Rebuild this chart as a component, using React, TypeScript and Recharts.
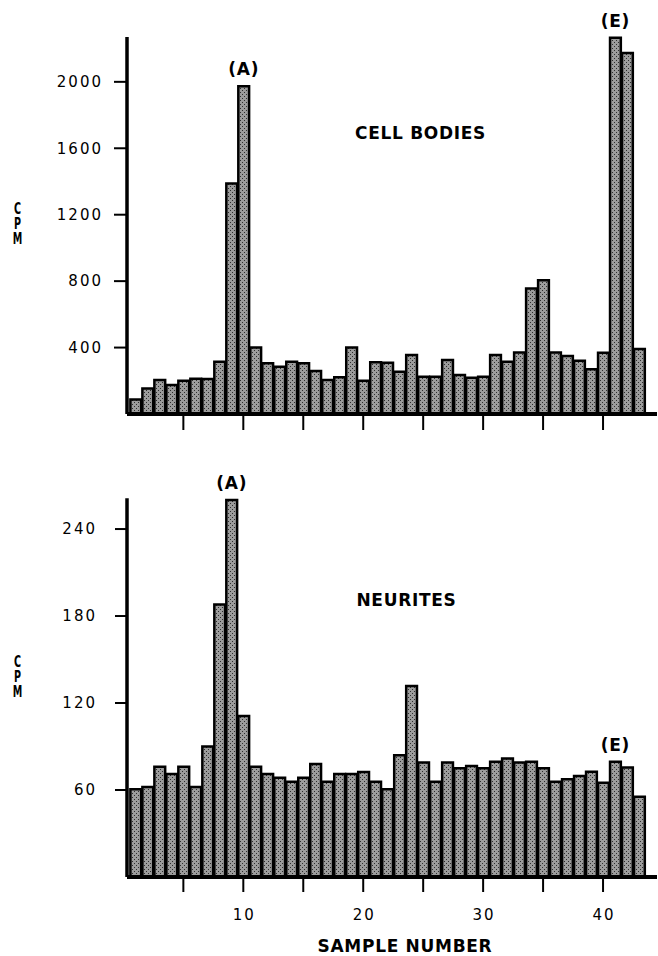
import React from 'react';
import { BarChart, Bar, XAxis, YAxis, LabelList } from 'recharts';

// Sample numbers (categories)
const samples = [
  1, 2, 3, 4, 5, 6, 7, 8, 9, 10,
  11, 12, 13, 14, 15, 16, 17, 18, 19, 20,
  21, 22, 23, 24, 25, 26, 27, 28, 29, 30,
  31, 32, 33, 34, 35, 36, 37, 38, 39, 40,
  41, 42, 43,
];

// CPM values, cell bodies (top panel)
const cellBodies = [
  88, 154, 204, 174, 200, 212, 210, 315, 1388, 1973,
  401, 305, 285, 315, 305, 259, 204, 221, 401, 200,
  311, 309, 255, 355, 225, 225, 325, 235, 218, 225,
  355, 315, 371, 756, 806, 371, 349, 321, 269, 369,
  2266, 2173, 391,
];

// CPM values, neurites (bottom panel)
const neurites = [
  60.5, 62, 76, 71, 76, 62, 90, 188, 260, 111,
  76, 71, 68.5, 65.7, 68.5, 78, 65.7, 71, 71, 72.4,
  65.7, 60.5, 84, 131.7, 79, 65.7, 79, 75, 76.6, 75,
  79.5, 81.8, 79, 79.5, 75, 65.7, 67.4, 69.7, 72.6, 65,
  79.5, 75.6, 55.4,
];

// Peak annotations
const topNoteSamples = [10, 41];
const topNoteTexts = ['(A)', '(E)'];
const bottomNoteSamples = [9, 41];
const bottomNoteTexts = ['(A)', '(E)'];

// Axis ticks
const xTicks = [5, 10, 15, 20, 25, 30, 35, 40];
const topYTicks = [400, 800, 1200, 1600, 2000];
const bottomYTicks = [60, 120, 180, 240];

const NUM_FONT = '"DejaVu Sans", sans-serif';
const BOLD_FONT = '"DejaVu Sans", sans-serif';

function buildRows(values: number[], noteSamples: number[], noteTexts: string[]) {
  return samples.map((n, i) => {
    const k = noteSamples.indexOf(n);
    return { n, v: values[i], note: k >= 0 ? noteTexts[k] : '' };
  });
}

const topRows = buildRows(cellBodies, topNoteSamples, topNoteTexts);
const bottomRows = buildRows(neurites, bottomNoteSamples, bottomNoteTexts);

const NoteLabel = (props: any) => {
  const { x, y, width, value } = props;
  if (!value) return null;
  return (
    <text
      x={Number(x) + Number(width) / 2}
      y={Number(y) - 11}
      textAnchor="middle"
      fontFamily={BOLD_FONT}
      fontWeight="bold"
      fontSize={17}
      style={{ letterSpacing: '0.7px' }}
      fill="#000"
    >
      {value}
    </text>
  );
};

const XTickLabel = (props: any) => {
  const { x, y, payload } = props;
  if (payload.value % 10 !== 0) return <g />;
  return (
    <text
      x={x + 1}
      y={y}
      dy={11}
      textAnchor="middle"
      fontFamily={NUM_FONT}
      fontSize={15}
      style={{ letterSpacing: '2px' }}
      fill="#000"
    >
      {payload.value}
    </text>
  );
};

const NoXTick = () => <g />;

function Defs() {
  return (
    <defs>
      <pattern id="dots" width="4" height="4" patternUnits="userSpaceOnUse">
        <rect x="0" y="0" width="4" height="4" fill="#9c9c9c" />
        <rect x="0" y="0" width="1" height="1" fill="#2e2e2e" />
        <rect x="2" y="2" width="1" height="1" fill="#2e2e2e" />
      </pattern>
    </defs>
  );
}

function CpmLabel({ x, y }: { x: number; y: number }) {
  return (
    <text
      transform={`translate(${x} ${y}) scale(0.6 1)`}
      x={0}
      y={0}
      fontFamily={BOLD_FONT}
      fontWeight="bold"
      fontSize={16}
      fill="#000"
      style={{ writingMode: 'vertical-rl', textOrientation: 'upright', letterSpacing: '-3px' } as any}
    >
      CPM
    </text>
  );
}

export default function App() {
  const W = 658;
  return (
    <div style={{ position: 'absolute', left: 0, top: 0, width: W, height: 956, background: '#fff' }}>
      <div style={{ position: 'absolute', left: 0, top: 0 }}>
        <BarChart
          width={W}
          height={445}
          data={topRows}
          margin={{ top: 37, right: 1, bottom: 0, left: 0 }}
          barCategoryGap={0}
        >
          <Defs />
          <XAxis
            dataKey="n"
            type="number"
            domain={[0.3, 44.5]}
            ticks={xTicks}
            interval={0}
            height={31}
            axisLine={{ stroke: '#000', strokeWidth: 4 }}
            tickLine={{ stroke: '#000', strokeWidth: 2 }}
            tickSize={16}
            tick={NoXTick}
          />
          <YAxis
            type="number"
            domain={[0, 2270]}
            ticks={topYTicks}
            interval={0}
            width={127}
            axisLine={{ stroke: '#000', strokeWidth: 3.5 }}
            tickLine={{ stroke: '#000', strokeWidth: 2 }}
            tickSize={13}
            tickMargin={11}
            tick={{ fontFamily: NUM_FONT, fontSize: 15, fill: '#000', style: { letterSpacing: '2px' } } as any}
          />
          <Bar
            dataKey="v"
            fill="url(#dots)"
            stroke="#000"
            strokeWidth={2.5}
            barSize={12}
            isAnimationActive={false}
          >
            <LabelList dataKey="note" content={NoteLabel} />
          </Bar>
        </BarChart>
      </div>
      <div style={{ position: 'absolute', left: 0, top: 445 }}>
        <BarChart
          width={W}
          height={511}
          data={bottomRows}
          margin={{ top: 53.3, right: 1, bottom: 0, left: 0 }}
          barCategoryGap={0}
        >
          <Defs />
          <XAxis
            dataKey="n"
            type="number"
            domain={[0.3, 44.5]}
            ticks={xTicks}
            interval={0}
            height={79}
            axisLine={{ stroke: '#000', strokeWidth: 4 }}
            tickLine={{ stroke: '#000', strokeWidth: 2 }}
            tickSize={15}
            tickMargin={17}
            tick={XTickLabel}
          />
          <YAxis
            type="number"
            domain={[0, 261.2]}
            ticks={bottomYTicks}
            interval={0}
            width={127}
            axisLine={{ stroke: '#000', strokeWidth: 3.5 }}
            tickLine={{ stroke: '#000', strokeWidth: 2 }}
            tickSize={12}
            tickMargin={18}
            tick={{ fontFamily: NUM_FONT, fontSize: 15, fill: '#000', style: { letterSpacing: '2px' } } as any}
          />
          <Bar
            dataKey="v"
            fill="url(#dots)"
            stroke="#000"
            strokeWidth={2.5}
            barSize={12}
            isAnimationActive={false}
          >
            <LabelList dataKey="note" content={NoteLabel} />
          </Bar>
        </BarChart>
      </div>
      <svg
        width={W}
        height={956}
        style={{ position: 'absolute', left: 0, top: 0, pointerEvents: 'none' }}
      >
        <g fontFamily={BOLD_FONT} fontWeight="bold" fontSize={17} fill="#000">
          <text x={420.5} y={139} textAnchor="middle" style={{ letterSpacing: '0.7px' }}>CELL BODIES</text>
          <text x={406.5} y={605.5} textAnchor="middle" style={{ letterSpacing: '0.7px' }}>NEURITES</text>
          <text x={405} y={952} textAnchor="middle" style={{ letterSpacing: '0.7px' }}>SAMPLE NUMBER</text>
        </g>
        <CpmLabel x={17.5} y={199} />
        <CpmLabel x={17.5} y={652} />
      </svg>
    </div>
  );
}
